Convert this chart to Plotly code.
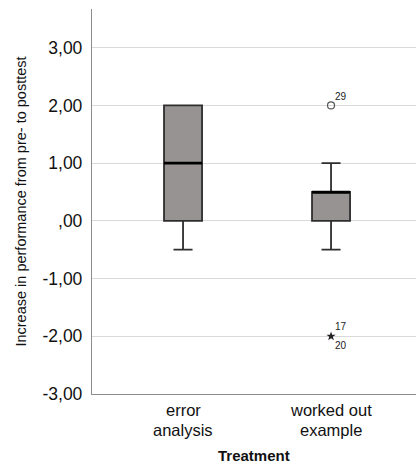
import plotly.graph_objects as go

# Data
categories = [["error", "analysis"], ["worked out", "example"]]
q1 = [0.0, 0.0]
median = [1.0, 0.5]
q3 = [2.0, 0.5]
lower_whisker = [-0.5, -0.5]
upper_whisker = [2.0, 1.0]

outlier_cat = [1, 1]
outlier_val = [2.0, -2.0]
outlier_symbol = ["circle-open", "star"]
outlier_labels = [["29"], ["17", "20"]]

y_ticks = [-3, -2, -1, 0, 1, 2, 3]
y_ticktext = ["-3,00", "-2,00", "-1,00", ",00", "1,00", "2,00", "3,00"]

BOX_W = 0.257
FONT = "Liberation Sans, Arial, sans-serif"

fig = go.Figure()
xs = list(range(len(categories)))
for i in xs:
    fig.add_trace(go.Box(
        x=[i], q1=[q1[i]], median=[median[i]], q3=[q3[i]],
        lowerfence=[lower_whisker[i]], upperfence=[upper_whisker[i]],
        width=BOX_W, whiskerwidth=0.5, boxpoints=False,
        fillcolor="#979393", line=dict(color="#2e2e2e", width=1.8),
        showlegend=False, hoverinfo="skip",
    ))
    fig.add_trace(go.Scatter(
        x=[i - BOX_W / 2, i + BOX_W / 2], y=[median[i], median[i]],
        mode="lines", line=dict(color="black", width=2.6),
        showlegend=False, hoverinfo="skip",
    ))

for c, v, s in zip(outlier_cat, outlier_val, outlier_symbol):
    if s == "star":
        mk = dict(symbol=s, size=7, color="#222222", line=dict(width=0))
    else:
        mk = dict(symbol=s, size=7, color="#555555", line=dict(color="#555555", width=1.2))
    fig.add_trace(go.Scatter(
        x=[c], y=[v], mode="markers", marker=mk,
        showlegend=False, hoverinfo="skip",
    ))

annotations = []
for c, v, labs in zip(outlier_cat, outlier_val, outlier_labels):
    shifts = [9] if len(labs) == 1 else [10, -9]
    for lab, ys in zip(labs, shifts):
        annotations.append(dict(x=c, y=v, xref="x", yref="y", text=lab,
                                showarrow=False, xshift=10, yshift=ys,
                                font=dict(family=FONT, size=10, color="#222")))

# category labels, one annotation per line (tight line spacing like the original)
for i, lines in zip(xs, categories):
    for k, line in enumerate(lines):
        annotations.append(dict(x=i, y=0, xref="x", yref="paper", text=line,
                                showarrow=False, yanchor="middle",
                                yshift=-16 - 20 * k,
                                font=dict(family=FONT, size=16.5, color="#111")))
annotations.append(dict(x=0.5, y=0, xref="paper", yref="paper",
                        text="<b>Treatment</b>", showarrow=False,
                        yanchor="middle", yshift=-61,
                        font=dict(family=FONT, size=15, color="#111")))

fig.update_layout(
    width=416, height=466,
    margin=dict(l=92, r=0, t=9, b=72),
    plot_bgcolor="white", paper_bgcolor="white",
    font=dict(family=FONT, color="#111"),
    annotations=annotations,
    xaxis=dict(
        range=[-0.615, 1.574], tickvals=xs, showticklabels=False,
        showgrid=False, zeroline=False, showline=True, linecolor="#8c8c8c",
        linewidth=1.3, ticks="", fixedrange=True,
    ),
    yaxis=dict(
        range=[-3, 3.67], tickvals=y_ticks, ticktext=y_ticktext,
        showgrid=True, gridcolor="#d9d9d9", gridwidth=1.3, zeroline=False,
        showline=True, linecolor="#8c8c8c", linewidth=1.3, ticks="",
        tickfont=dict(size=17.5, color="#111"), ticklabelstandoff=5,
        title=dict(text="Increase in performance from pre- to posttest",
                   font=dict(size=14.5), standoff=12),
        fixedrange=True,
    ),
)

fig.write_html("out.html")
